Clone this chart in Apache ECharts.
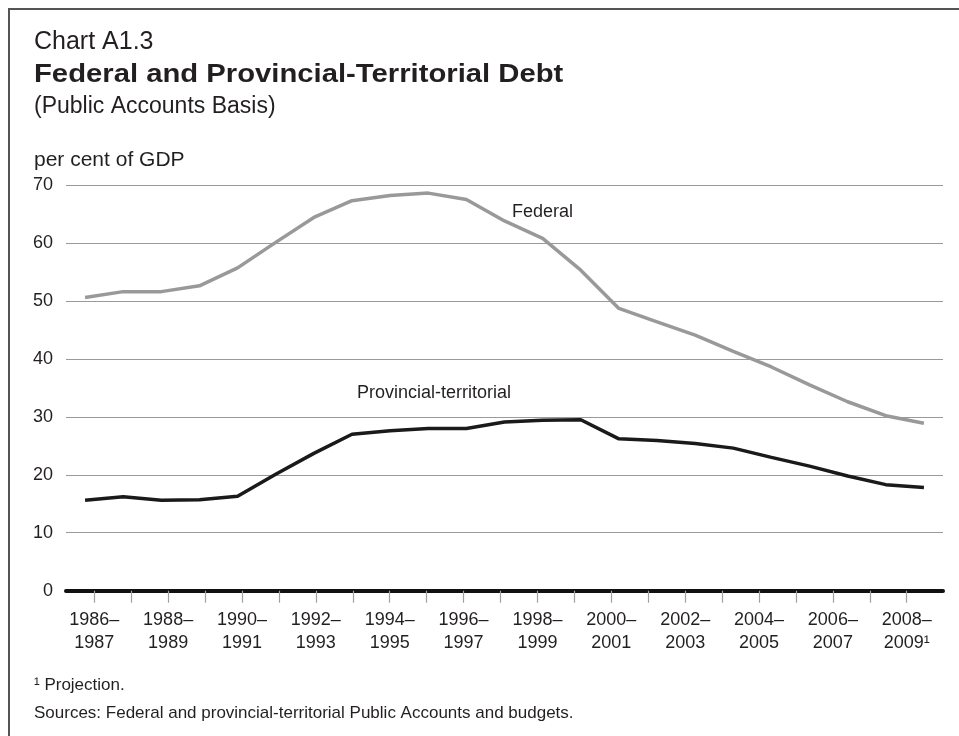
<!DOCTYPE html>
<html>
<head>
<meta charset="utf-8">
<script src="https://cdn.jsdelivr.net/npm/echarts@6/dist/echarts.min.js"></script>
<style>
html,body{margin:0;padding:0;background:#fff;}
#chart{width:959px;height:736px;}
</style>
</head>
<body>
<div id="chart"></div>
<script>
// ---- data ----
const categories = ['1986–1987','1987–1988','1988–1989','1989–1990','1990–1991','1991–1992','1992–1993','1993–1994','1994–1995','1995–1996','1996–1997','1997–1998','1998–1999','1999–2000','2000–2001','2001–2002','2002–2003','2003–2004','2004–2005','2005–2006','2006–2007','2007–2008','2008–2009'];
const federal = [50.6, 51.6, 51.6, 52.6, 55.7, 60.1, 64.4, 67.3, 68.2, 68.6, 67.5, 63.8, 60.8, 55.3, 48.7, 46.4, 44.1, 41.3, 38.6, 35.5, 32.6, 30.2, 28.9];
const provincial = [15.6, 16.2, 15.6, 15.7, 16.3, 20.1, 23.7, 27.0, 27.6, 28.0, 28.0, 29.1, 29.4, 29.5, 26.2, 25.9, 25.4, 24.6, 23.0, 21.5, 19.8, 18.3, 17.8];
const yTicks = [0, 10, 20, 30, 40, 50, 60, 70];
const projectedCategory = '2008–2009';

const FONT = '"Liberation Sans", Arial, Helvetica, sans-serif';
const TXT = '#231f20';

const chart = echarts.init(document.getElementById('chart'));
const option = {
  animation: false,
  backgroundColor: '#ffffff',
  textStyle: { fontFamily: FONT },
  grid: [
    { left: 66, right: 16, top: 185, bottom: 145.3 },
    { left: 75.8, right: 33.8, top: 185, bottom: 145.3 }
  ],
  xAxis: [
    {
      type: 'category', gridIndex: 0, data: categories, boundaryGap: true,
      axisLine: { show: true, lineStyle: { color: '#111', width: 4 } },
      axisTick: { show: false }, axisLabel: { show: false }, splitLine: { show: false }
    },
    {
      type: 'category', gridIndex: 1, data: categories, boundaryGap: true,
      axisLine: { show: false },
      axisTick: { show: true, alignWithLabel: true, interval: 0, length: 12, lineStyle: { color: '#a0a0a0', width: 1.2 } },
      axisLabel: {
        interval: 1, margin: 18, color: TXT, fontSize: 18, fontFamily: FONT, lineHeight: 23,
        formatter: function (v) {
          const p = v.split('–');
          return p[0] + '–\n' + p[1] + (v === projectedCategory ? '¹' : '');
        }
      },
      splitLine: { show: false }
    }
  ],
  yAxis: [
    {
      type: 'value', gridIndex: 0, min: yTicks[0], max: yTicks[yTicks.length - 1], interval: 10,
      axisLine: { show: false }, axisTick: { show: false },
      axisLabel: { color: TXT, fontSize: 18, margin: 13, fontFamily: FONT },
      splitLine: { show: true, lineStyle: { color: '#9a9a9a', width: 1.2 } }
    },
    { type: 'value', gridIndex: 1, min: 0, max: 70, show: false }
  ],
  series: [
    {
      name: 'Federal', type: 'line', xAxisIndex: 0, yAxisIndex: 0, data: federal,
      symbol: 'none', lineStyle: { color: '#999999', width: 3.5 }, z: 3
    },
    {
      name: 'Provincial-territorial', type: 'line', xAxisIndex: 0, yAxisIndex: 0, data: provincial,
      symbol: 'none', lineStyle: { color: '#1a1a1a', width: 3.5 }, z: 4
    }
  ],
  graphic: [
    { type: 'polyline', shape: { points: [[9, 736], [9, 9], [959, 9]] }, style: { stroke: '#555', lineWidth: 2, fill: null } },
    { type: 'text', left: 34, top: 30, style: { text: 'Chart A1.3', font: '25px ' + FONT, fill: TXT } },
    { type: 'text', x: 34, y: 63, scaleX: 1.17, originX: 0, style: { text: 'Federal and Provincial-Territorial Debt', font: 'bold 25px ' + FONT, fill: TXT, textVerticalAlign: 'top', verticalAlign: 'top' } },
    { type: 'text', left: 34, top: 95, style: { text: '(Public Accounts Basis)', font: '23px ' + FONT, fill: TXT } },
    { type: 'text', left: 34, top: 150, style: { text: 'per cent of GDP', font: '21px ' + FONT, fill: TXT } },
    { type: 'text', left: 512, top: 203, style: { text: 'Federal', font: '18px ' + FONT, fill: TXT } },
    { type: 'text', left: 357, top: 384, style: { text: 'Provincial-territorial', font: '18px ' + FONT, fill: TXT } },
    { type: 'text', left: 34, top: 677, style: { text: '¹ Projection.', font: '17px ' + FONT, fill: TXT } },
    { type: 'text', left: 34, top: 705, style: { text: 'Sources: Federal and provincial-territorial Public Accounts and budgets.', font: '17px ' + FONT, fill: TXT } }
  ]
};
chart.setOption(option);
</script>
</body>
</html>
